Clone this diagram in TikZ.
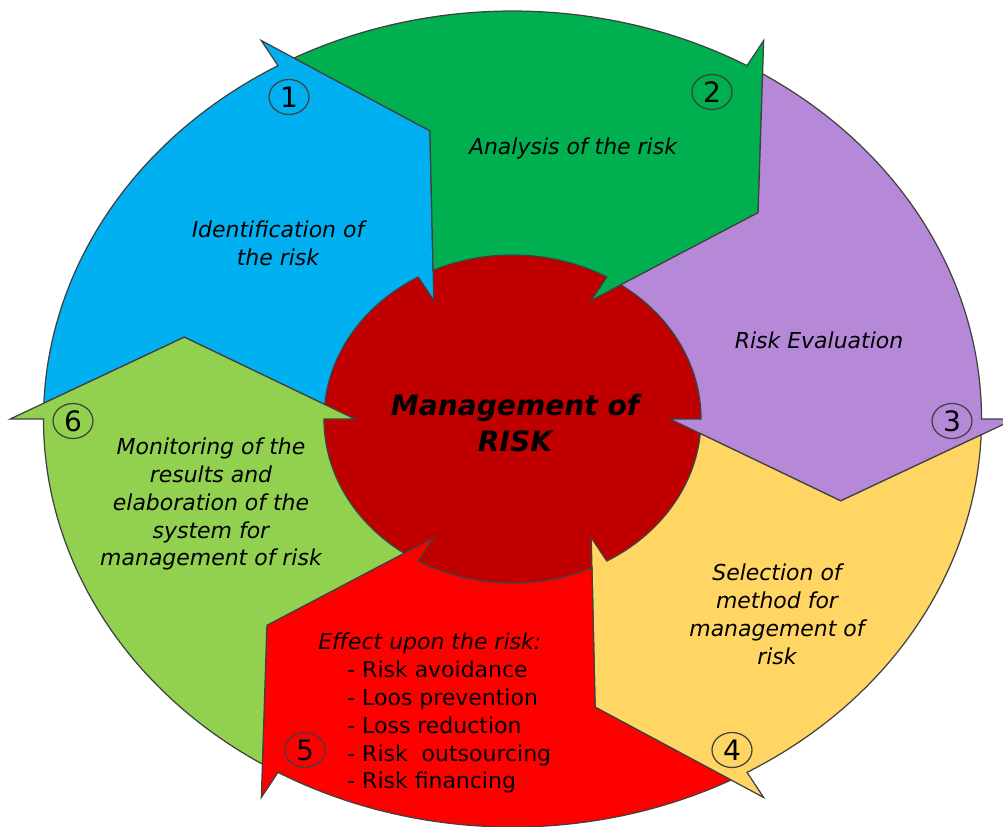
\documentclass[tikz,border=0pt]{standalone}
\usepackage{fontspec}
\setmainfont{DejaVu Sans}
\usetikzlibrary{shapes.geometric}

\definecolor{segblue}{HTML}{00B0F0}
\definecolor{seggreen}{HTML}{00B050}
\definecolor{segpurple}{HTML}{B689D8}
\definecolor{segyellow}{HTML}{FFD564}
\definecolor{segred}{HTML}{FF0000}
\definecolor{seglime}{HTML}{92D050}
\definecolor{hubred}{HTML}{C00000}
\definecolor{edgegray}{HTML}{404040}

\begin{document}
\begin{tikzpicture}[x=0.02cm, y=-0.02cm,
  seg/.style={draw=edgegray, line width=0.7pt, line join=miter},
  lbl/.style={font=\fontsize{12.5}{15.9}\selectfont\itshape, align=center, text=black, inner sep=0pt},
  plain/.style={font=\fontsize{12.5}{15.9}\selectfont, text=black, inner sep=0pt},
  num/.style={ellipse, draw=edgegray, line width=0.7pt, minimum width=0.8cm, minimum height=0.7cm,
              inner sep=0pt, font=\fontsize{16}{19}\selectfont, text=black}]

\useasboundingbox (0,0) rectangle (1003,826);
\fill[white] (0,0) rectangle (1003,826);
\clip (0,0) rectangle (1003,826);

% ring geometry in a circle frame stretched horizontally
\begin{scope}[shift={(512.5,419)}, x=0.023cm, y=0.02cm]
  % central hub
  \filldraw[seg, fill=hubred] (0,0) circle[radius=164];
  % six arrow segments: ring sector with a notched tail and a barbed head
  \foreach \b/\col in {120/segblue, 60/seggreen, 0/segpurple, -60/segyellow, -120/segred, 180/seglime}{
    \filldraw[seg, fill=\col]
      (\b+57.77:408) arc[start angle=\b+57.77, end angle=\b, radius=408]
      -- (\b:437) -- (\b-16:297) -- (\b:137) -- (\b:164)
      arc[start angle=\b, end angle=\b+54.92, radius=164]
      -- (\b+44:297) -- cycle;
  }
\end{scope}

% step numbers
\node[num] (n1) at (289,97) {1};
\node[num] (n2) at (712,92) {2};
\node[num] (n3) at (952,421) {3};
\node[num] (n4) at (732,750) {4};
\node[num] (n5) at (305,750) {5};
\node[num] (n6) at (73,421) {6};

% step labels
\node[lbl] (ident) at (278,243) {Identification of\\the risk};
\node[lbl] (analysis) at (573,148) {Analysis of the risk};
\node[lbl] (evaluation) at (819,340) {Risk Evaluation};
\node[lbl] (selection) at (777,614) {Selection of\\method for\\management of\\risk};
\node[lbl] (monitor) at (211,504) {Monitoring of the\\results and\\elaboration of the\\system for\\management of risk};
\node[lbl, anchor=west] (effecthead) at (318,643) {Effect upon the risk:};
\node[plain, anchor=west, align=left] (effects) at (347,727)
  {- Risk avoidance\\- Loos prevention\\- Loss reduction\\- Risk\ \ outsourcing\\- Risk financing};

% hub title
\node[font=\fontsize{16}{20.5}\selectfont\bfseries\itshape, align=center, inner sep=0pt] (hub) at (515,423)
  {Management of\\RISK};
\end{tikzpicture}
\end{document}
